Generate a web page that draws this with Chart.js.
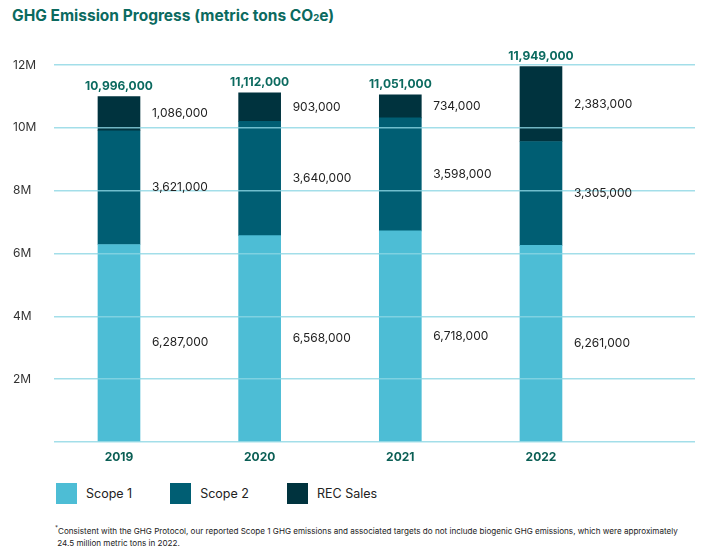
<!DOCTYPE html>
<html>
<head>
<meta charset="utf-8">
<script src="https://cdn.jsdelivr.net/npm/chart.js@4.4.1/dist/chart.umd.min.js"></script>
<style>
  html, body { margin: 0; padding: 0; background: #fff; }
  body { width: 712px; height: 550px; position: relative; overflow: hidden; font-family: Inter, "Noto Sans", sans-serif; }
  #title { position: absolute; left: 12px; top: 6px; font-size: 15.5px; font-weight: 700; color: #0b6a5f; }
  #title .sub { font-size: 0.62em; }
  #wrap { position: absolute; left: 0; top: 0; width: 712px; height: 470px; }
  #legend { position: absolute; left: 56px; top: 483px; display: flex; align-items: center; font-size: 12.5px; color: #222; }
  #legend .item { display: flex; align-items: center; margin-right: 38px; }
  #legend .box { width: 21px; height: 21px; margin-right: 9px; }
  #note { position: absolute; left: 55px; top: 522px; font-size: 8.1px; line-height: 12px; color: #222; }
  #note sup { font-size: 0.75em; }
</style>
</head>
<body>
<div id="title">GHG Emission Progress (metric tons CO<span class="sub">2</span>e)</div>
<div id="wrap"><canvas id="chartGhg"></canvas></div>
<div id="legend"></div>
<div id="note"><sup>*</sup>Consistent with the GHG Protocol, our reported Scope 1 GHG emissions and associated targets do not include biogenic GHG emissions, which were approximately<br>&nbsp;24.5 million metric tons in 2022.</div>
<script>
// dados do gráfico
const years = [2019, 2020, 2021, 2022];
const scope1 = [6287000, 6568000, 6718000, 6261000];
const scope2 = [3621000, 3640000, 3598000, 3305000];
const recSales = [1086000, 903000, 734000, 2383000];
const totals = [10996000, 11112000, 11051000, 11949000];
const seriesNames = ['Scope 1', 'Scope 2', 'REC Sales'];
const seriesColors = ['#4dbdd5', '#005e73', '#00333e'];

const fmt = v => v.toLocaleString('en-US');

// rótulos ao lado de cada segmento e total acima da barra
const labelsPlugin = {
    id: 'segLabels',
    afterDraw(chart) {
        const ctx = chart.ctx;
        ctx.save();
        chart.data.datasets.forEach((ds, di) => {
            const meta = chart.getDatasetMeta(di);
            meta.data.forEach((bar, i) => {
                ctx.font = '12px Inter';
                ctx.fillStyle = '#222';
                ctx.textAlign = 'left';
                ctx.textBaseline = 'middle';
                ctx.fillText(fmt(ds.data[i].y), bar.x + bar.width / 2 + 12, (bar.y + bar.base) / 2);
            });
        });
        const top = chart.getDatasetMeta(chart.data.datasets.length - 1);
        top.data.forEach((bar, i) => {
            ctx.font = 'bold 12px Inter';
            ctx.fillStyle = '#0b6a5f';
            ctx.textAlign = 'center';
            ctx.textBaseline = 'alphabetic';
            ctx.fillText(fmt(totals[i]), bar.x, bar.y - 7);
        });
        ctx.restore();
    }
};

const allSeries = [scope1, scope2, recSales];

new Chart(document.getElementById('chartGhg'), {
    type: 'bar',
    data: {
        datasets: allSeries.map((vals, s) => ({
            label: seriesNames[s],
            data: years.map((yr, i) => ({ x: yr, y: vals[i] })),
            backgroundColor: seriesColors[s],
            borderWidth: 0,
            barThickness: 42
        }))
    },
    options: {
        responsive: true,
        maintainAspectRatio: false,
        animation: false,
        layout: { padding: { left: 13, right: 17, top: 65, bottom: 0 } },
        plugins: { legend: { display: false }, tooltip: { enabled: false } },
        scales: {
            x: {
                type: 'linear',
                stacked: true,
                offset: false,
                min: 2018.538,
                max: 2023.095,
                afterBuildTicks: s => { s.ticks = years.map(v => ({ value: v })); },
                afterFit: s => { s.height = 28; },
                grid: { display: false, drawTicks: false },
                border: { display: false },
                ticks: {
                    padding: 8,
                    color: '#0b5f55',
                    font: { family: 'Inter', size: 12, weight: 'bold' },
                    callback: v => String(v)
                }
            },
            y: {
                stacked: true,
                min: 0,
                max: 12000000,
                afterFit: s => { s.width = 41; },
                border: { display: false },
                grid: { color: 'rgba(140, 214, 228, 0.8)', lineWidth: 1.5, drawTicks: false, z: 1 },
                ticks: {
                    stepSize: 2000000,
                    crossAlign: 'far',
                    color: '#333',
                    font: { family: 'Inter', size: 12 },
                    callback: v => v === 0 ? '' : (v / 1000000) + 'M'
                }
            }
        }
    },
    plugins: [labelsPlugin]
});

// legenda em HTML
document.getElementById('legend').innerHTML = seriesNames.map((n, i) => `
    <div class="item"><div class="box" style="background:${seriesColors[i]}"></div><span>${n}</span></div>
`).join('');
</script>
</body>
</html>
